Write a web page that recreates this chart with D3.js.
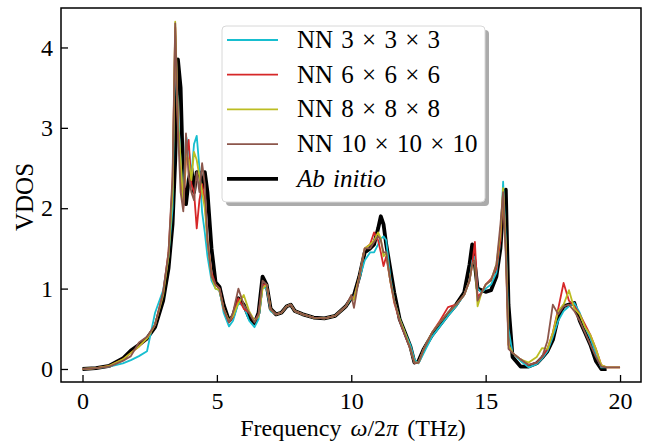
<!DOCTYPE html>
<html>
<head>
<meta charset="utf-8">
<script src="https://cdn.jsdelivr.net/npm/d3@7"></script>
<style>
  body { margin: 0; background: #fff; }
  text { font-family: "Liberation Serif", "Times New Roman", serif; }
</style>
</head>
<body>
<div id="chart"></div>
<script>
// shared frequency grid (THz)
const freq = [
  0, 0.5, 1.0, 1.5, 1.8, 2.1, 2.4, 2.7, 3.0, 3.2,
  3.35, 3.45, 3.55, 3.65, 3.75, 3.85, 3.95, 4.05, 4.15, 4.25,
  4.35, 4.45, 4.55, 4.65, 4.8, 4.95, 5.1, 5.25, 5.45, 5.6,
  5.8, 6.0, 6.2, 6.4, 6.55, 6.7, 6.85, 7.0, 7.2, 7.4,
  7.6, 7.75, 7.9, 8.2, 8.6, 9.0, 9.4, 9.8, 10.0, 10.1,
  10.3, 10.5, 10.7, 10.85, 11.0, 11.1, 11.2, 11.3, 11.45, 11.6,
  11.8, 12.0, 12.2, 12.35, 12.5, 12.7, 13.0, 13.3, 13.6, 13.9,
  14.2, 14.4, 14.5, 14.6, 14.7, 14.85, 15.0, 15.2, 15.4, 15.55,
  15.65, 15.75, 15.85, 16.0, 16.3, 16.6, 16.9, 17.1, 17.3, 17.5,
  17.7, 17.9, 18.1, 18.3, 18.5, 18.7, 18.9, 19.1, 19.3, 19.5,
  20
];

const abInitio = [
  0, 0.01, 0.04, 0.13, 0.23, 0.3, 0.38, 0.52, 0.85, 1.25,
  1.8, 2.6, 3.85, 3.5, 2.3, 2.05, 2.35, 2.5, 2.2, 2.45,
  2.45, 2.25, 2.45, 2.2, 1.5, 1.08, 1.02, 0.8, 0.6, 0.66,
  0.88, 0.8, 0.64, 0.57, 0.7, 1.15, 1.05, 0.75, 0.68, 0.7,
  0.78, 0.8, 0.72, 0.68, 0.64, 0.63, 0.66, 0.78, 0.88, 0.92,
  1.15, 1.45, 1.5, 1.55, 1.75, 1.9, 1.8, 1.55, 1.25, 0.95,
  0.62, 0.45, 0.28, 0.08, 0.1, 0.25, 0.42, 0.55, 0.68, 0.8,
  0.95, 1.3, 1.55, 1.3, 1.0, 0.98, 0.96, 0.98, 1.15, 1.5,
  2.0, 2.23, 0.8, 0.15, 0.03, 0.03, 0.07, 0.14, 0.22, 0.36,
  0.65, 0.78, 0.8, 0.82, 0.6, 0.45, 0.3, 0.1, 0.0, 0.0,
  null
];

const nn3 = [
  0, 0.01, 0.03, 0.07, 0.11, 0.16, 0.22, 0.7, 0.98, 1.4,
  2.0, 4.15, 3.2, 2.6, 2.05, 2.9, 2.75, 2.4, 2.8, 2.9,
  2.5, 1.95, 1.7, 1.4, 1.1, 1.0, 0.98, 0.7, 0.53, 0.6,
  0.82, 0.78, 0.6, 0.52, 0.62, 1.02, 1.0, 0.72, 0.68, 0.7,
  0.78, 0.8, 0.72, 0.68, 0.64, 0.63, 0.66, 0.78, 0.88, 0.9,
  1.12, 1.35, 1.45, 1.45, 1.55, 1.62, 1.65, 1.6, 1.15, 0.85,
  0.62, 0.45, 0.3, 0.12, 0.07, 0.2, 0.4, 0.53, 0.66, 0.78,
  0.92, 1.1, 1.35, 1.4, 1.0, 0.95, 1.0, 1.05, 1.2, 1.6,
  2.33, 1.6, 0.5, 0.2, 0.1, 0.02, 0.06, 0.13, 0.22, 0.4,
  0.6, 0.72, 0.78, 0.82, 0.7, 0.52, 0.38, 0.18, 0.02, 0.02,
  null
];

const nn6 = [
  0, 0.01, 0.04, 0.12, 0.2, 0.28, 0.38, 0.55, 0.95, 1.45,
  2.3, 4.25, 3.0, 2.5, 2.0, 2.6, 2.85, 2.3, 2.2, 1.75,
  2.1, 2.3, 2.1, 1.6, 1.2, 1.05, 1.0, 0.75, 0.58, 0.65,
  0.88, 0.75, 0.7, 0.6, 0.68, 1.05, 1.05, 0.74, 0.68, 0.7,
  0.78, 0.8, 0.72, 0.68, 0.64, 0.63, 0.66, 0.78, 0.9, 0.88,
  1.15, 1.5, 1.55, 1.7, 1.6, 1.45, 1.28, 1.4, 1.1, 0.82,
  0.6, 0.42, 0.25, 0.08, 0.08, 0.25, 0.45, 0.6, 0.77, 0.8,
  0.92, 1.1, 1.3, 1.58, 0.9, 0.95, 1.05, 1.12, 1.25, 1.6,
  2.2, 1.5, 0.3, 0.2, 0.12, 0.05, 0.08, 0.15, 0.25, 0.45,
  0.75, 1.07, 0.85, 0.78, 0.68, 0.55, 0.42, 0.25, 0.05, 0.02,
  0.02
];

const nn8 = [
  0, 0.01, 0.04, 0.12, 0.2, 0.28, 0.38, 0.55, 0.92, 1.4,
  2.2, 4.32, 3.1, 2.6, 2.05, 2.7, 2.6, 2.35, 2.7, 2.6,
  2.4, 2.2, 2.0, 1.6, 1.15, 1.0, 0.98, 0.75, 0.6, 0.66,
  0.82, 0.92, 0.72, 0.6, 0.65, 1.0, 1.05, 0.74, 0.68, 0.7,
  0.78, 0.8, 0.72, 0.68, 0.64, 0.63, 0.66, 0.78, 0.9, 0.86,
  1.15, 1.5, 1.55, 1.6, 1.7, 1.62, 1.4, 1.45, 1.1, 0.85,
  0.62, 0.45, 0.25, 0.08, 0.08, 0.25, 0.45, 0.58, 0.7, 0.8,
  0.92, 1.1, 1.3, 1.35, 0.78, 0.95, 1.05, 1.1, 1.3, 1.7,
  2.25, 1.5, 0.3, 0.2, 0.12, 0.08, 0.15, 0.26, 0.25, 0.45,
  0.72, 0.8, 0.98, 0.75, 0.68, 0.52, 0.42, 0.25, 0.05, 0.02,
  0.02
];

const nn10 = [
  0, 0.01, 0.03, 0.1, 0.16, 0.33, 0.4, 0.55, 0.95, 1.45,
  2.4, 4.3, 3.0, 2.2, 1.96, 2.93, 2.4, 2.2, 2.1, 2.45,
  2.2, 2.56, 2.3, 1.6, 1.15, 1.05, 1.0, 0.75, 0.58, 0.7,
  1.0, 0.8, 0.7, 0.58, 0.68, 1.1, 1.05, 0.74, 0.68, 0.7,
  0.78, 0.8, 0.72, 0.68, 0.64, 0.63, 0.66, 0.78, 0.92, 0.76,
  1.15, 1.5, 1.5, 1.58, 1.65, 1.6, 1.45, 1.45, 1.1, 0.85,
  0.6, 0.42, 0.25, 0.07, 0.08, 0.25, 0.45, 0.58, 0.7, 0.8,
  0.92, 1.1, 1.3, 1.35, 0.85, 0.95, 1.05, 1.1, 1.3, 1.8,
  2.2, 1.4, 0.25, 0.2, 0.12, 0.05, 0.08, 0.15, 0.35, 0.8,
  0.68, 0.78, 0.8, 0.72, 0.6, 0.45, 0.3, 0.15, 0.03, 0.02,
  0.02
];

const xTicks = [0, 5, 10, 15, 20];
const yTicks = [0, 1, 2, 3, 4];

const width = 646, height = 441;
const plot = { left: 61, right: 641, top: 8, bottom: 382 };

const x = d3.scaleLinear().domain([-0.8, 20.78]).range([plot.left, plot.right]);
const y = d3.scaleLinear().domain([-0.162, 4.491]).range([plot.bottom, plot.top]);

const series = [
  { label: "NN 3 × 3 × 3", values: nn3, color: "#17becf", width: 1.8 },
  { label: "NN 6 × 6 × 6", values: nn6, color: "#d62728", width: 1.8 },
  { label: "NN 8 × 8 × 8", values: nn8, color: "#bcbd22", width: 1.8 },
  { label: "NN 10 × 10 × 10", values: nn10, color: "#8c564b", width: 1.8 },
  { label: "Ab initio", values: abInitio, color: "#000", width: 3.8, italic: true }
];

const svg = d3.select("#chart")
  .append("svg")
  .attr("width", width)
  .attr("height", height);

svg.append("defs").append("clipPath").attr("id", "clip")
  .append("rect")
  .attr("x", plot.left).attr("y", plot.top)
  .attr("width", plot.right - plot.left)
  .attr("height", plot.bottom - plot.top);

const line = d3.line()
  .defined(d => d[1] != null)
  .x(d => x(d[0]))
  .y(d => y(d[1]));

// ab initio first so the NN curves sit on top
const drawOrder = [series[4], series[0], series[1], series[2], series[3]];
svg.append("g").attr("clip-path", "url(#clip)")
  .selectAll("path")
  .data(drawOrder)
  .join("path")
  .attr("d", s => line(freq.map((f, i) => [f, s.values[i]])))
  .attr("fill", "none")
  .attr("stroke", s => s.color)
  .attr("stroke-width", s => s.width)
  .attr("stroke-linejoin", "round");

// axes with inward ticks
const xAxis = svg.append("g")
  .attr("transform", `translate(0,${plot.bottom})`)
  .call(d3.axisBottom(x).tickValues(xTicks).tickFormat(d3.format("d"))
    .tickSizeInner(-7).tickSizeOuter(0).tickPadding(10));
const yAxis = svg.append("g")
  .attr("transform", `translate(${plot.left},0)`)
  .call(d3.axisLeft(y).tickValues(yTicks).tickFormat(d3.format("d"))
    .tickSizeInner(-7).tickSizeOuter(0).tickPadding(8));

[xAxis, yAxis].forEach(a => {
  a.select(".domain").remove();
  a.selectAll(".tick line").attr("stroke", "#000").attr("stroke-width", 1.3);
  a.selectAll(".tick text")
    .style("font-family", "'Liberation Serif', serif")
    .style("font-size", "24px")
    .attr("fill", "#000");
});

// frame
svg.append("rect")
  .attr("x", plot.left).attr("y", plot.top)
  .attr("width", plot.right - plot.left)
  .attr("height", plot.bottom - plot.top)
  .attr("fill", "none")
  .attr("stroke", "#000")
  .attr("stroke-width", 1.5);

// axis labels
svg.append("text")
  .attr("x", (plot.left + plot.right) / 2 + 2)
  .attr("y", 435.8)
  .attr("text-anchor", "middle")
  .style("font-size", "24px")
  .style("word-spacing", "3px")
  .html("Frequency <tspan font-style='italic'>ω</tspan>/2<tspan font-style='italic'>π</tspan> (THz)");

svg.append("text")
  .attr("transform", `translate(33,${(plot.top + plot.bottom) / 2 + 2}) rotate(-90)`)
  .attr("text-anchor", "middle")
  .style("font-size", "25px")
  .text("VDOS");

// legend
const lg = { x: 222, y: 26, w: 263, h: 176 };
svg.append("rect")
  .attr("x", lg.x + 4).attr("y", lg.y + 4)
  .attr("width", lg.w).attr("height", lg.h)
  .attr("rx", 4)
  .attr("fill", "#ababab");
svg.append("rect")
  .attr("x", lg.x).attr("y", lg.y)
  .attr("width", lg.w).attr("height", lg.h)
  .attr("rx", 4)
  .attr("fill", "#fff")
  .attr("stroke", "#d8d8d8")
  .attr("stroke-width", 1);

const items = svg.append("g")
  .selectAll("g")
  .data(series)
  .join("g")
  .attr("transform", (d, i) => `translate(${lg.x},${lg.y + 14 + i * 34.7})`);

items.append("line")
  .attr("x1", 5).attr("x2", 56)
  .attr("stroke", d => d.color)
  .attr("stroke-width", d => d.width);

items.append("text")
  .attr("x", 75)
  .attr("y", 8)
  .style("font-size", "25px")
  .style("word-spacing", "2px")
  .style("font-style", d => d.italic ? "italic" : "normal")
  .text(d => d.label);
</script>
</body>
</html>
